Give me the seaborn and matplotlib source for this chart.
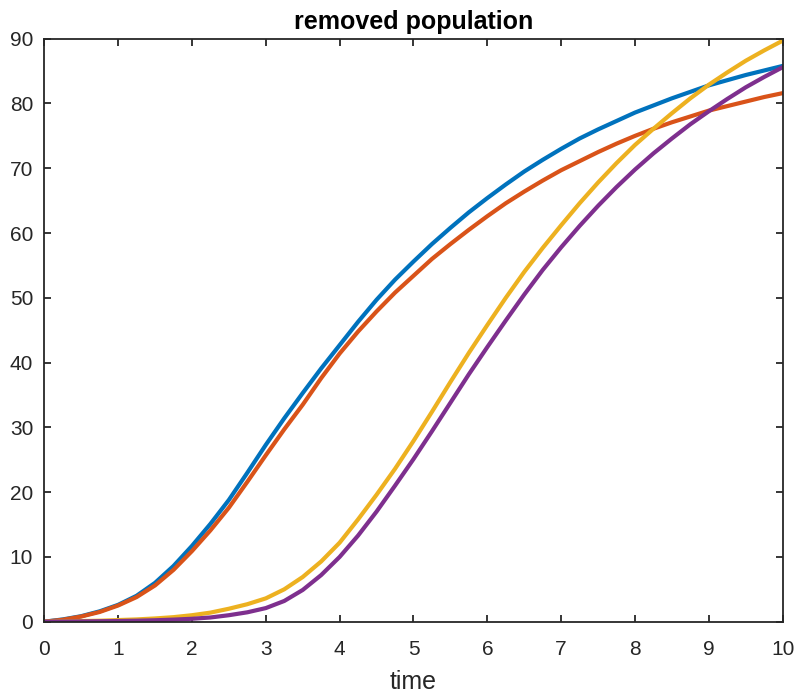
import numpy as np
import pandas as pd
import matplotlib
matplotlib.use("Agg")
import matplotlib.pyplot as plt
import seaborn as sns

# Sample times (quarter-step grid)
time = [0, 0.25, 0.5, 0.75, 1, 1.25, 1.5, 1.75, 2, 2.25, 2.5, 2.75, 3, 3.25, 3.5, 3.75,
        4, 4.25, 4.5, 4.75, 5, 5.25, 5.5, 5.75, 6, 6.25, 6.5, 6.75, 7, 7.25, 7.5, 7.75,
        8, 8.25, 8.5, 8.75, 9, 9.25, 9.5, 9.75, 10]

# Removed population for each run
run_a = [0, 0.35, 0.85, 1.6, 2.6, 4.0, 6.0, 8.6, 11.7, 15.1, 18.8, 23.0, 27.3, 31.4,
         35.3, 39.1, 42.7, 46.3, 49.7, 52.8, 55.6, 58.3, 60.8, 63.2, 65.4, 67.5, 69.5,
         71.3, 73.0, 74.6, 76.0, 77.3, 78.6, 79.7, 80.8, 81.8, 82.8, 83.6, 84.4, 85.1, 85.8]
run_b = [0, 0.3, 0.8, 1.5, 2.5, 3.8, 5.6, 8.0, 10.9, 14.1, 17.6, 21.6, 25.7, 29.7,
         33.5, 37.6, 41.4, 44.8, 47.9, 50.8, 53.4, 56.0, 58.3, 60.5, 62.6, 64.6, 66.4,
         68.1, 69.7, 71.1, 72.5, 73.8, 75.0, 76.1, 77.1, 78.0, 78.9, 79.6, 80.3, 81.0, 81.6]
run_c = [0, 0.05, 0.1, 0.15, 0.25, 0.35, 0.5, 0.7, 1.0, 1.4, 2.0, 2.7, 3.6, 5.0,
         6.9, 9.3, 12.2, 15.8, 19.6, 23.6, 27.9, 32.4, 37.0, 41.5, 45.8, 50.0, 54.0,
         57.7, 61.2, 64.6, 67.8, 70.8, 73.6, 76.1, 78.5, 80.8, 82.9, 84.8, 86.6, 88.2, 89.7]
run_d = [0, 0.02, 0.04, 0.07, 0.1, 0.15, 0.22, 0.32, 0.45, 0.65, 1.0, 1.45, 2.1, 3.2,
         4.9, 7.2, 10.0, 13.3, 17.0, 21.0, 25.1, 29.4, 33.8, 38.2, 42.4, 46.5, 50.5,
         54.3, 57.8, 61.1, 64.2, 67.1, 69.8, 72.3, 74.6, 76.8, 78.8, 80.7, 82.5, 84.1, 85.6]

runs = {"a": run_a, "b": run_b, "c": run_c, "d": run_d}
colors = ["#0072BD", "#D95319", "#EDB120", "#7E2F8E"]

df = pd.concat(
    [pd.DataFrame({"time": time, "removed": vals, "run": name}) for name, vals in runs.items()],
    ignore_index=True,
)

sns.set_theme(style="white")
plt.rcParams["font.family"] = ["Liberation Sans", "DejaVu Sans"]

fig = plt.figure(figsize=(7.98, 6.99), dpi=100)
ax = fig.add_axes([0.0555, 0.1106, 0.9253, 0.834])

sns.lineplot(data=df, x="time", y="removed", hue="run", palette=colors,
             linewidth=3.0, legend=False, ax=ax)
for line in ax.lines:
    line.set_solid_joinstyle("round")
    line.set_solid_capstyle("round")

ax.set_xlim(0, 10)
ax.set_ylim(0, 90)
ax.set_xticks(range(0, 11))
ax.set_yticks(range(0, 91, 10))

edge = "#262626"
for side in ["left", "right", "top", "bottom"]:
    ax.spines[side].set_visible(True)
    ax.spines[side].set_color(edge)
    ax.spines[side].set_linewidth(1.3)

ax.tick_params(axis="both", which="major", direction="in", length=5, width=1.3,
               color=edge, labelcolor=edge, labelsize=15,
               top=True, right=True, bottom=True, left=True)
ax.tick_params(axis="x", pad=13)
ax.tick_params(axis="y", pad=8)

ax.set_xlabel("time", fontsize=18, color=edge, labelpad=8)
ax.set_ylabel("")
ax.set_title("removed population", fontsize=18, fontweight="bold", color="black", pad=7)

fig.savefig("out.png", dpi=100, facecolor="white")
